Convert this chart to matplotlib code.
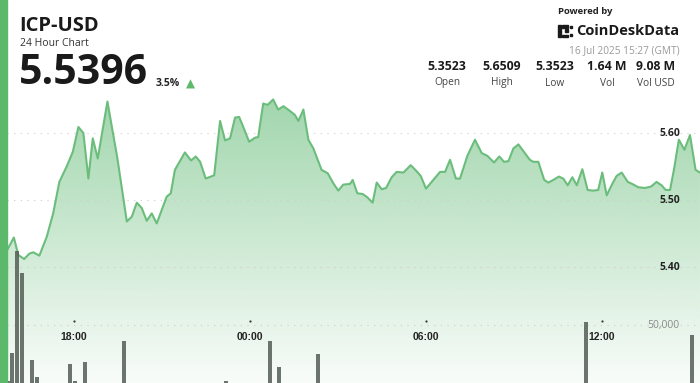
import matplotlib.pyplot as plt
import matplotlib.patches as mpatches
from matplotlib.transforms import blended_transform_factory
import numpy as np

plt.rcParams['font.family'] = ['Open Sans', 'DejaVu Sans']

# price series: hour of day (24 = 00:00 next day) and price
hours = [15.73, 15.95, 16.10, 16.30, 16.48, 16.61, 16.82, 17.07, 17.29, 17.50,
         17.75, 17.96, 18.15, 18.32, 18.49, 18.64, 18.81, 19.14, 19.48, 19.80,
         19.97, 20.14, 20.31, 20.48, 20.65, 20.82, 21.16, 21.30, 21.44, 21.78,
         21.99, 22.15, 22.30, 22.49, 22.78, 22.98, 23.15, 23.32, 23.49, 23.63,
         23.77, 23.97, 24.17, 24.28, 24.45, 24.60, 24.79, 24.96, 25.14, 25.36,
         25.53, 25.65, 25.82, 25.99, 26.16, 26.44, 26.65, 26.84, 27.01, 27.18,
         27.41, 27.50, 27.66, 27.84, 28.00, 28.18, 28.32, 28.49, 28.64, 28.83,
         29.00, 29.23, 29.48, 29.68, 29.82, 30.00, 30.25, 30.48, 30.65, 30.82,
         31.02, 31.16, 31.41, 31.67, 31.90, 32.09, 32.32, 32.50, 32.66, 32.81,
         32.98, 33.15, 33.37, 33.54, 33.66, 33.83, 34.03, 34.17, 34.34, 34.53,
         34.68, 34.83, 34.99, 35.14, 35.33, 35.51, 35.70, 35.87, 36.01, 36.16,
         36.35, 36.50, 36.67, 36.88, 37.03, 37.24, 37.47, 37.67, 37.86, 38.03,
         38.17, 38.32, 38.46, 38.62, 38.81, 39.00, 39.19, 39.34]
prices = [5.426, 5.444, 5.418, 5.412, 5.420, 5.422, 5.417, 5.445, 5.480, 5.527,
          5.550, 5.572, 5.609, 5.600, 5.532, 5.592, 5.562, 5.647, 5.562, 5.468,
          5.475, 5.496, 5.488, 5.469, 5.480, 5.465, 5.505, 5.510, 5.545, 5.571,
          5.559, 5.565, 5.557, 5.532, 5.537, 5.618, 5.589, 5.592, 5.623, 5.624,
          5.609, 5.587, 5.593, 5.594, 5.644, 5.642, 5.650, 5.635, 5.640, 5.633,
          5.627, 5.618, 5.635, 5.590, 5.577, 5.545, 5.540, 5.525, 5.514, 5.523,
          5.524, 5.530, 5.510, 5.509, 5.504, 5.496, 5.526, 5.516, 5.518, 5.534,
          5.542, 5.541, 5.552, 5.543, 5.536, 5.517, 5.530, 5.542, 5.542, 5.560,
          5.532, 5.532, 5.566, 5.590, 5.570, 5.566, 5.556, 5.565, 5.557, 5.558,
          5.577, 5.583, 5.570, 5.560, 5.557, 5.557, 5.530, 5.526, 5.530, 5.535,
          5.532, 5.522, 5.534, 5.522, 5.546, 5.515, 5.514, 5.515, 5.541, 5.507,
          5.524, 5.536, 5.541, 5.527, 5.524, 5.519, 5.518, 5.520, 5.527, 5.522,
          5.515, 5.515, 5.547, 5.590, 5.575, 5.597, 5.545, 5.541]

vol_hours = [15.75, 15.90, 16.07, 16.22, 16.56, 16.73, 17.87, 18.03, 18.38,
             19.70, 23.18, 24.68, 25.00, 26.33, 35.45, 39.07]
volumes = [1700, 26100, 114000, 95100, 19800, 5500, 16100, 1700, 18400,
           36200, 1700, 36200, 14100, 25000, 52800, 41400]

price_ticks = [5.40, 5.50, 5.60]
vol_ticks = [50000]
time_ticks = [18, 24, 30, 36]
time_labels = ['18:00', '00:00', '06:00', '12:00']

stat_values = ['5.3523', '5.6509', '5.3523', '1.64 M', '9.08 M']
stat_labels = ['Open', 'High', 'Low', 'Vol', 'Vol USD']

W, H = 700, 383
fig = plt.figure(figsize=(W / 100, H / 100), dpi=100)
fig.patch.set_facecolor('white')

def fx(px):
    return px / W

def fy(py):
    return 1 - py / H

# left accent bar
fig.patches.append(mpatches.Rectangle((0, 0), fx(7), 1, transform=fig.transFigure,
                                      color='#5cb96c', zorder=5))

ax = fig.add_axes([fx(7), 0, fx(693), (H - 90) / H])
ax.set_xlim(15.716, 39.341)
ax.set_ylim(5.2269, 5.6642)
ax.axis('off')

# gradient fill under the line
poly = ax.fill_between(hours, prices, 5.2269, color='none', lw=0)
grad = np.linspace(0.58, 0.04, 256).reshape(-1, 1)
rgba = np.zeros((256, 1, 4))
rgba[..., 0] = 0x5c / 255
rgba[..., 1] = 0xb8 / 255
rgba[..., 2] = 0x70 / 255
rgba[..., 3] = grad
img = ax.imshow(rgba, aspect='auto', extent=[15.716, 39.341, 5.2269, 5.655],
                origin='upper', zorder=1)
path = poly.get_paths()[0]
img.set_clip_path(path, transform=ax.transData)
ax.plot(hours, prices, color='#6bbd7c', lw=1.5, zorder=3)

for p in price_ticks:
    ax.axhline(p, color='#cccccc', lw=0.8, ls=(0, (1, 5)), zorder=2)
    ax.text(0.971, p, f'{p:.2f}', transform=blended_transform_factory(ax.transAxes, ax.transData),
            ha='right', va='center', fontsize=7.5, fontweight='bold', color='#222222', zorder=6)

trans_x = blended_transform_factory(ax.transData, ax.transAxes)
for t, lab in zip(time_ticks, time_labels):
    ax.text(t, 0.157, lab, transform=trans_x, ha='center', va='center',
            fontsize=7.5, fontweight='bold', color='#222222', family='Liberation Sans', zorder=6)
    ax.plot(t, 0.212, marker='.', ms=1.2, color='#333333', transform=trans_x, zorder=6)

# volume bars
vax = ax.twinx()
vax.set_ylim(0, 252600)
vax.axis('off')
vax.bar(vol_hours, volumes, width=0.13, color='#58625a', alpha=0.88, zorder=4)
for v in vol_ticks:
    vax.axhline(v, color='#cccccc', lw=0.8, ls=(0, (1, 5)), zorder=2)
    vax.text(0.971, v, f'{v:,}', transform=blended_transform_factory(vax.transAxes, vax.transData),
             ha='right', va='center', fontsize=7.5, color='#8a8a8a', zorder=6)

# header
fig.text(fx(19), fy(26), 'ICP-USD', fontsize=14.5, fontweight='bold', color='#1a1a1a', va='center')
fig.text(fx(20), fy(43), '24 Hour Chart', fontsize=7.5, color='#333333', va='center')
fig.text(fx(19), fy(73), '5.5396', fontsize=29.5, fontweight='bold', color='#1a1a1a', va='center')
fig.text(fx(156), fy(84), '3.5%', fontsize=7.5, fontweight='bold', color='#222222', va='center')
fig.text(fx(186), fy(84), '▲', fontsize=8.5, color='#5cb96c', va='center', family='DejaVu Sans')

fig.text(fx(558), fy(11), 'Powered by', fontsize=6.8, fontweight='bold', color='#222222', va='center')
fig.text(fx(576), fy(31), 'CoinDeskData', fontsize=10.5, fontweight='bold', color='#1a1a1a', va='center')
for (x0, y0, w, h) in [(558, 25, 3, 12), (562, 25, 6, 2.5), (562, 34.5, 6, 2.5),
                       (565, 29, 2.5, 3), (570, 26, 2, 2), (570, 34, 2, 2)]:
    fig.patches.append(mpatches.Rectangle((fx(x0), fy(y0 + h)), fx(w), h / H,
                                          transform=fig.transFigure, color='#1a1a1a'))
fig.text(fx(680), fy(51), '16 Jul 2025 15:27 (GMT)', fontsize=7.3, color='#9a9a9a',
         ha='right', va='center')

stat_x = [447, 502, 555, 607, 656]
for x, val, lab in zip(stat_x, stat_values, stat_labels):
    fig.text(fx(x), fy(67), val, fontsize=8.8, fontweight='bold', color='#1a1a1a', ha='center', va='center')
    fig.text(fx(x), fy(83), lab, fontsize=7.3, color='#444444', ha='center', va='center')

fig.savefig('out.png', dpi=100)
